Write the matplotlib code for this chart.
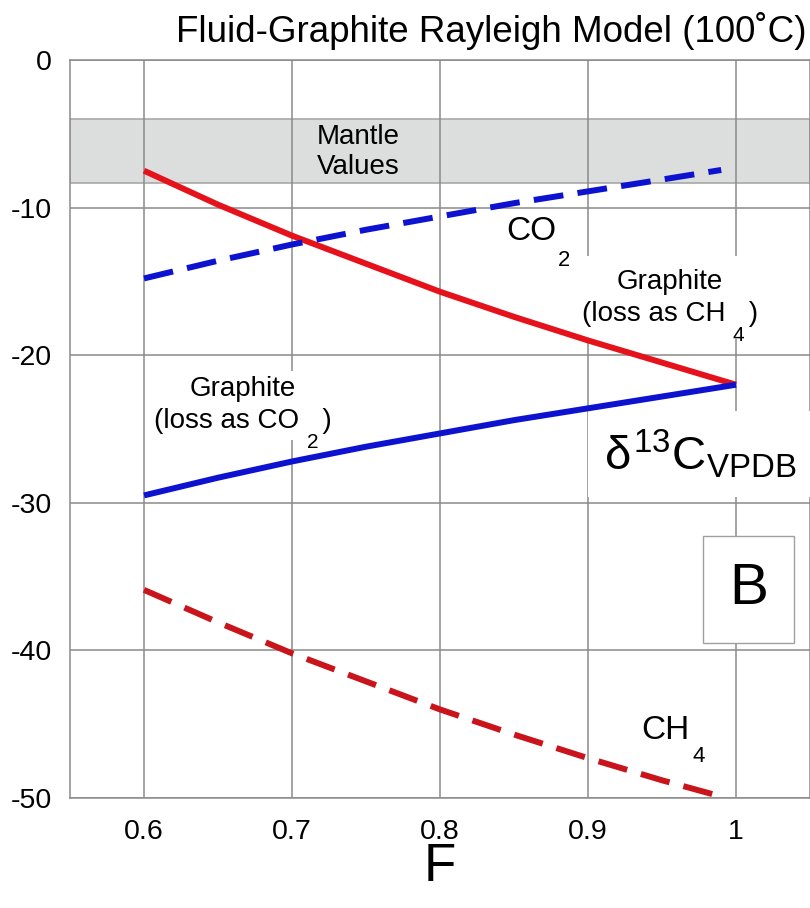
import matplotlib
matplotlib.use("Agg")
import matplotlib.pyplot as plt

plt.rcParams['font.family'] = ['Liberation Sans', 'DejaVu Sans']
plt.rcParams['mathtext.fontset'] = 'custom'
plt.rcParams['mathtext.rm'] = 'Liberation Sans'
plt.rcParams['mathtext.it'] = 'Liberation Sans'

# ---- data ----
F_solid = [0.60, 0.65, 0.70, 0.75, 0.80, 0.85, 0.90, 0.95, 1.00]
graphite_loss_ch4 = [-7.5, -9.8, -11.9, -13.8, -15.7, -17.4, -19.0, -20.5, -22.0]
graphite_loss_co2 = [-29.5, -28.3, -27.2, -26.2, -25.3, -24.4, -23.6, -22.8, -22.0]
F_dash = [0.60, 0.65, 0.70, 0.75, 0.80, 0.85, 0.90, 0.95, 0.99]
co2_fluid = [-14.8, -13.6, -12.5, -11.5, -10.6, -9.7, -8.9, -8.1, -7.45]
ch4_fluid = [-35.9, -38.1, -40.2, -42.1, -44.0, -45.7, -47.3, -48.8, -49.9]
mantle_range = [-8.3, -4.0]
x_ticks = [0.6, 0.7, 0.8, 0.9, 1.0]
x_tick_labels = ['0.6', '0.7', '0.8', '0.9', '1']
y_ticks = [0, -10, -20, -30, -40, -50]
y_tick_labels = ['0', '-10', '-20', '-30', '-40', '-50']

W, H = 810, 908
fig = plt.figure(figsize=(W / 100, H / 100), dpi=100)
ax = fig.add_axes([70 / W, 1 - 798 / H, 740 / W, 738 / H])
ax.set_xlim(0.55, 1.05)
ax.set_ylim(-50, 0)

grid_c = '#8a8a8a'
ax.axhspan(mantle_range[0], mantle_range[1], facecolor='#dcdddd',
           edgecolor='#a8a8a8', linewidth=1.2, zorder=0)
ax.set_xticks(x_ticks)
ax.set_xticklabels(x_tick_labels)
ax.set_yticks(y_ticks)
ax.set_yticklabels(y_tick_labels)
ax.grid(True, color=grid_c, linewidth=1.1, zorder=1)
ax.set_axisbelow(True)
for s in ax.spines.values():
    s.set_color(grid_c)
    s.set_linewidth(1.1)
ax.tick_params(axis='both', length=0, labelsize=20.5, colors='black')
ax.tick_params(axis='y', pad=13)
ax.tick_params(axis='x', pad=15)

red = '#e5121b'
dred = '#c8141a'
blue = '#0c12d0'
lw = 4.3
ax.plot(F_solid, graphite_loss_ch4, color=red, lw=lw, solid_capstyle='butt', zorder=4)
ax.plot(F_solid, graphite_loss_co2, color=blue, lw=lw, solid_capstyle='butt', zorder=4)
ax.plot(F_dash, co2_fluid, color=blue, lw=lw, dashes=(5, 2.4), dash_capstyle='butt', zorder=4)
ax.plot(F_dash, ch4_fluid, color=dred, lw=lw, dashes=(5, 2.4), dash_capstyle='butt', zorder=4)

def wbox(p):
    return dict(facecolor='white', edgecolor='none', pad=p)

ax.text(0.745, -6.2, 'Mantle\nValues', ha='center', va='center', fontsize=20,
        linespacing=1.2, zorder=3)

# CO2 label
ax.text(0.862, -11.65, 'CO', ha='center', va='center', fontsize=24,
        bbox=wbox(2), zorder=3)
ax.text(0.8835, -13.6, '2', ha='center', va='center', fontsize=16, zorder=3)

# Graphite (loss as CH4)
ax.text(0.9554, -16.1, 'Graphite\n(loss as CH   )', ha='center', va='center',
        fontsize=20, linespacing=1.3, bbox=wbox(9), zorder=3)
ax.text(1.0014, -18.65, '4', ha='center', va='center', fontsize=15, zorder=3)

# Graphite (loss as CO2)
ax.text(0.6669, -23.4, 'Graphite\n(loss as CO   )', ha='center', va='center',
        fontsize=20, linespacing=1.3, bbox=wbox(4), zorder=3)
ax.text(0.7142, -25.9, '2', ha='center', va='center', fontsize=15, zorder=3)

# delta 13C label
ax.text(0.911, -26.7, r'$\delta^{13}$C$_{\mathregular{VPDB}}$', ha='left', va='center',
        fontsize=34, bbox=wbox(12), zorder=3)

# B box
ax.text(1.0085, -35.87, 'B', ha='center', va='center', fontsize=42, zorder=5,
        bbox=dict(facecolor='white', edgecolor='#a0a0a0', linewidth=1.0,
                  boxstyle='square,pad=0.45'))

# CH4 label
ax.text(0.952, -45.4, 'CH', ha='center', va='center', fontsize=24, zorder=3)
ax.text(0.975, -47.2, '4', ha='center', va='center', fontsize=16, zorder=3)

fig.text(491 / W, 1 - 31 / H, 'Fluid-Graphite Rayleigh Model (100˚C)',
         ha='center', va='center', fontsize=26.5)
fig.text(440 / W, 1 - 881 / H, 'F', ha='center', va='baseline', fontsize=38)

fig.savefig('out.png', dpi=100)
